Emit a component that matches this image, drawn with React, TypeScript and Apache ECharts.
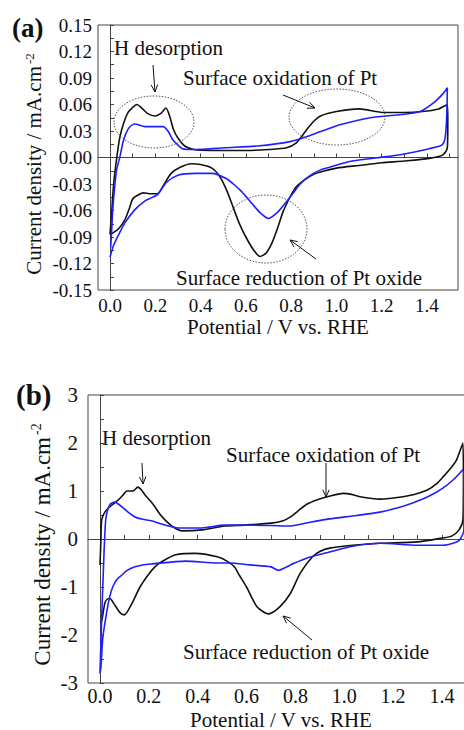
import React, { useEffect, useRef } from "react";
import * as echarts from "echarts";

// ---------- Panel (a) data: [potential V, current density mA.cm-2] ----------
const aBlack: [number, number][] = [
  [0.0, -0.087], [0.008, -0.06], [0.013, -0.04], [0.02, -0.02], [0.03, 0.0], [0.04, 0.018],
  [0.05, 0.03], [0.066, 0.043], [0.08, 0.051], [0.097, 0.056], [0.119, 0.06], [0.14, 0.056],
  [0.165, 0.05], [0.199, 0.047], [0.225, 0.05], [0.247, 0.056], [0.262, 0.048], [0.28, 0.032],
  [0.3, 0.022], [0.33, 0.013], [0.37, 0.009], [0.45, 0.008], [0.6, 0.008], [0.7, 0.009],
  [0.78, 0.011], [0.82, 0.016], [0.85, 0.025], [0.87, 0.032], [0.9, 0.041], [0.93, 0.047],
  [1.0, 0.052], [1.1, 0.055], [1.21, 0.051], [1.3, 0.051], [1.38, 0.052], [1.45, 0.055],
  [1.49, 0.06], [1.492, 0.04], [1.49, 0.011], [1.47, 0.003], [1.41, -0.001], [1.3, -0.004],
  [1.2, -0.006], [1.1, -0.009], [1.0, -0.012], [0.95, -0.015], [0.9, -0.019], [0.85, -0.027],
  [0.82, -0.034], [0.795, -0.045], [0.765, -0.061], [0.74, -0.08], [0.715, -0.097], [0.69, -0.108],
  [0.663, -0.112], [0.635, -0.105], [0.6, -0.09], [0.57, -0.074], [0.545, -0.057], [0.515, -0.037],
  [0.486, -0.022], [0.45, -0.012], [0.4, -0.008], [0.36, -0.007], [0.31, -0.011], [0.27, -0.018],
  [0.235, -0.032], [0.21, -0.041], [0.175, -0.041], [0.147, -0.04], [0.12, -0.043], [0.1, -0.047],
  [0.085, -0.058], [0.065, -0.071], [0.04, -0.08], [0.015, -0.085], [0.0, -0.087],
];

const aBlue: [number, number][] = [
  [0.003, -0.102], [0.008, -0.08], [0.012, -0.06], [0.02, -0.035], [0.03, -0.013], [0.044, 0.001],
  [0.057, 0.017], [0.07, 0.027], [0.085, 0.034], [0.11, 0.038], [0.155, 0.035], [0.235, 0.035],
  [0.256, 0.03], [0.275, 0.021], [0.296, 0.015], [0.32, 0.01], [0.375, 0.009], [0.51, 0.011],
  [0.65, 0.013], [0.795, 0.018], [0.883, 0.025], [0.97, 0.033], [1.015, 0.037], [1.15, 0.045],
  [1.3, 0.049], [1.37, 0.052], [1.43, 0.062], [1.47, 0.072], [1.49, 0.079], [1.487, 0.045],
  [1.48, 0.022], [1.465, 0.014], [1.41, 0.01], [1.3, 0.004], [1.22, 0.001], [1.07, -0.004],
  [0.97, -0.011], [0.93, -0.014], [0.88, -0.021], [0.84, -0.03], [0.81, -0.04], [0.77, -0.053],
  [0.74, -0.062], [0.7, -0.069], [0.665, -0.063], [0.63, -0.053], [0.6, -0.044], [0.575, -0.037],
  [0.545, -0.03], [0.515, -0.024], [0.45, -0.018], [0.375, -0.018], [0.3, -0.02], [0.25, -0.028],
  [0.21, -0.042], [0.18, -0.046], [0.155, -0.049], [0.11, -0.059], [0.066, -0.074], [0.035, -0.089],
  [0.015, -0.1], [0.0, -0.113],
];

// ---------- Panel (b) data ----------
const bBlack: [number, number][] = [
  [0.0, -0.54], [0.004, 0.0], [0.007, 0.4], [0.02, 0.56], [0.04, 0.67], [0.074, 0.81], [0.095, 0.92],
  [0.11, 1.0], [0.135, 1.0], [0.155, 1.08], [0.17, 1.02], [0.184, 0.92], [0.205, 0.8], [0.225, 0.67],
  [0.245, 0.52], [0.266, 0.4], [0.3, 0.25], [0.336, 0.17], [0.417, 0.19], [0.51, 0.27], [0.59, 0.29],
  [0.7, 0.33], [0.75, 0.38], [0.78, 0.46], [0.81, 0.58], [0.845, 0.72], [0.89, 0.82], [0.93, 0.88],
  [0.995, 0.95], [1.03, 0.93], [1.064, 0.88], [1.146, 0.83], [1.24, 0.88], [1.3, 0.95], [1.34, 1.02],
  [1.38, 1.16], [1.404, 1.29], [1.44, 1.5], [1.46, 1.65], [1.486, 2.0], [1.488, 1.2], [1.486, 0.4],
  [1.47, 0.19], [1.44, 0.06], [1.4, 0.02], [1.3, -0.06], [1.146, -0.09], [1.035, -0.13], [0.94, -0.19],
  [0.9, -0.26], [0.87, -0.37], [0.82, -0.71], [0.78, -1.13], [0.737, -1.41], [0.69, -1.56],
  [0.643, -1.41], [0.6, -1.0], [0.57, -0.75], [0.55, -0.58], [0.52, -0.46], [0.48, -0.37], [0.39, -0.3],
  [0.31, -0.33], [0.254, -0.47], [0.225, -0.58], [0.197, -0.75], [0.164, -1.0], [0.131, -1.34],
  [0.1, -1.58], [0.085, -1.55], [0.074, -1.48], [0.055, -1.33], [0.041, -1.24], [0.03, -1.25],
  [0.02, -1.33], [0.008, -1.69], [0.002, -1.73],
];

const bBlue: [number, number][] = [
  [0.0, -2.8], [0.008, -1.5], [0.015, -0.5], [0.02, 0.1], [0.025, 0.46], [0.04, 0.71], [0.06, 0.77],
  [0.075, 0.73], [0.09, 0.67], [0.115, 0.56], [0.143, 0.46], [0.175, 0.41], [0.21, 0.38], [0.266, 0.29],
  [0.32, 0.23], [0.417, 0.23], [0.51, 0.29], [0.59, 0.29], [0.7, 0.28], [0.78, 0.27], [0.86, 0.35],
  [0.94, 0.42], [1.05, 0.49], [1.146, 0.56], [1.22, 0.65], [1.28, 0.75], [1.35, 0.9], [1.404, 1.06],
  [1.45, 1.25], [1.486, 1.44], [1.49, 0.9], [1.49, 0.19], [1.475, 0.0], [1.46, -0.06], [1.404, -0.13],
  [1.3, -0.13], [1.146, -0.09], [1.035, -0.15], [0.94, -0.27], [0.845, -0.4], [0.78, -0.54],
  [0.73, -0.65], [0.7, -0.58], [0.614, -0.54], [0.53, -0.5], [0.48, -0.5], [0.35, -0.46], [0.21, -0.52],
  [0.175, -0.54], [0.143, -0.58], [0.11, -0.66], [0.09, -0.75], [0.07, -0.84], [0.053, -0.99],
  [0.04, -1.2], [0.029, -1.48], [0.012, -2.04], [0.004, -2.67], [0.0, -2.8],
];

// ---------- Tick labels / tick positions ----------
const xLabelValues = [0, 0.2, 0.4, 0.6, 0.8, 1.0, 1.2, 1.4];
const aXTickValues = [0, 0.1, 0.2, 0.3, 0.4, 0.5, 0.6, 0.7, 0.8, 0.9, 1.0, 1.1, 1.2, 1.3, 1.4, 1.5];
const bXTickValues = [0, 0.1, 0.2, 0.3, 0.4, 0.5, 0.6, 0.7, 0.8, 0.9, 1.0, 1.1, 1.2, 1.3, 1.4];
const aYLabelValues = [-0.15, -0.12, -0.09, -0.06, -0.03, 0, 0.03, 0.06, 0.09, 0.12, 0.15];
const aYTickValues = [
  -0.15, -0.135, -0.12, -0.105, -0.09, -0.075, -0.06, -0.045, -0.03, -0.015, 0,
  0.015, 0.03, 0.045, 0.06, 0.075, 0.09, 0.105, 0.12, 0.135, 0.15,
];
const bYLabelValues = [-3, -2, -1, 0, 1, 2, 3];
const bYTickValues = [-3, -2.5, -2, -1.5, -1, -0.5, 0, 0.5, 1, 1.5, 2, 2.5, 3];

const FONT = "'Liberation Serif', serif";
const INK = "#111";
const FRAME = "#444";
const BLUE = "#1f1fff";

function arrow(x1: number, y1: number, x2: number, y2: number) {
  const ang = Math.atan2(y2 - y1, x2 - x1);
  const L = 8;
  const a = 0.42;
  const p1 = [x2 - L * Math.cos(ang - a), y2 - L * Math.sin(ang - a)];
  const p2 = [x2 - L * Math.cos(ang + a), y2 - L * Math.sin(ang + a)];
  return [
    { type: "line", shape: { x1, y1, x2, y2 }, style: { stroke: INK, lineWidth: 1 }, z: 100 },
    {
      type: "polyline",
      shape: { points: [p1, [x2, y2], p2] },
      style: { stroke: INK, fill: null, lineWidth: 1 },
      z: 100,
    },
  ];
}

function ellipse(cx: number, cy: number, rx: number, ry: number) {
  return {
    type: "ellipse",
    shape: { cx, cy, rx, ry },
    style: { stroke: "#555", fill: "rgba(0,0,0,0)", lineWidth: 1, lineDash: [1.5, 1.5] },
    z: 100,
  };
}

function label(text: string, x: number, y: number, size: number, weight = "normal") {
  return {
    type: "text",
    x,
    y,
    z: 100,
    style: {
      text,
      font: `${weight} ${size}px ${FONT}`,
      fill: INK,
      textAlign: "left",
      textVerticalAlign: "middle",
    },
  };
}

function centerLabel(text: string, x: number, y: number, size: number) {
  return {
    type: "text",
    x,
    y,
    z: 100,
    style: { text, font: `${size}px ${FONT}`, fill: INK, textAlign: "center", textVerticalAlign: "middle" },
  };
}

function yName(x: number, yEnd: number, size: number) {
  return {
    type: "group",
    x,
    y: yEnd,
    rotation: Math.PI / 2,
    z: 100,
    children: [
      {
        type: "text",
        x: 0,
        y: 0,
        style: {
          text: "Current density / mA.cm",
          font: `${size}px ${FONT}`,
          fill: INK,
          textAlign: "right",
          textVerticalAlign: "middle",
        },
      },
      {
        type: "text",
        x: 2,
        y: -Math.round(size * 0.26),
        style: {
          text: "-2",
          font: `${Math.round(size * 0.6)}px ${FONT}`,
          fill: INK,
          textAlign: "left",
          textVerticalAlign: "middle",
        },
      },
    ],
  };
}

function tickRich(size: number) {
  return { t: { fontFamily: FONT, fontSize: size, color: INK, fontWeight: "normal" } };
}

function makeXAxis(gridIndex: number, min: number, max: number, ticks: number[], size: number, margin: number) {
  return {
    type: "value",
    gridIndex,
    min,
    max,
    axisLine: { show: true, lineStyle: { color: FRAME, width: 1 } },
    axisTick: { show: true, inside: true, length: 4, customValues: ticks, lineStyle: { color: FRAME } },
    axisLabel: {
      customValues: xLabelValues,
      formatter: (v: number) => `{t|${v.toFixed(1)}}`,
      rich: tickRich(size),
      fontFamily: FONT,
      fontSize: size,
      color: INK,
      margin,
    },
    splitLine: { show: false },
  };
}

function makeYAxis(
  gridIndex: number,
  min: number,
  max: number,
  labels: number[],
  ticks: number[],
  digits: number,
  size: number,
  margin: number
) {
  return {
    type: "value",
    gridIndex,
    min,
    max,
    axisLine: { show: true, lineStyle: { color: FRAME, width: 1 } },
    axisTick: { show: true, inside: true, length: 4, customValues: ticks, lineStyle: { color: FRAME } },
    axisLabel: {
      customValues: labels,
      formatter: (v: number) =>
        `{t|${Math.abs(v) < 1e-9 ? (0).toFixed(digits) : v.toFixed(digits)}}`,
      rich: tickRich(size),
      fontFamily: FONT,
      fontSize: size,
      color: INK,
      margin,
    },
    splitLine: { show: false },
  };
}

function lineSeries(data: [number, number][], color: string, idx: number) {
  return {
    type: "line",
    xAxisIndex: idx,
    yAxisIndex: idx,
    data,
    showSymbol: false,
    symbol: "none",
    smooth: 0.25,
    lineStyle: { color, width: 1.6 },
    clip: true,
  };
}

export default function App() {
  const ref = useRef<HTMLDivElement>(null);

  useEffect(() => {
    if (!ref.current) return;
    const chart = echarts.init(ref.current, null, { renderer: "svg" });
    chart.setOption({
      animation: false,
      backgroundColor: "#fff",
      textStyle: { fontFamily: FONT },
      grid: [
        { left: 98, top: 25, width: 360, height: 265, show: true, borderColor: FRAME, borderWidth: 1 },
        { left: 88, top: 395, width: 383, height: 288, show: true, borderColor: FRAME, borderWidth: 1 },
      ],
      xAxis: [
        makeXAxis(0, -0.053, 1.537, aXTickValues, 19, 6),
        makeXAxis(1, -0.049, 1.519, bXTickValues, 20, 3),
      ],
      yAxis: [
        makeYAxis(0, -0.15, 0.15, aYLabelValues, aYTickValues, 2, 19, 6),
        makeYAxis(1, -3, 3, bYLabelValues, bYTickValues, 0, 21, 10),
      ],
      series: [
        lineSeries(aBlack, INK, 0),
        lineSeries(aBlue, BLUE, 0),
        lineSeries(bBlack, INK, 1),
        lineSeries(bBlue, BLUE, 1),
      ],
      graphic: [
        // panel (a)
        label("(a)", 12, 28, 27, "bold"),
        yName(34, 66, 21),
        centerLabel("Potential / V vs. RHE", 278, 327, 21),
        label("H desorption", 114, 48, 21),
        label("Surface oxidation of Pt", 183, 78, 21),
        label("Surface reduction of Pt oxide", 176, 278, 21),
        ellipse(154, 122, 40, 26),
        ellipse(337, 117, 48, 28),
        ellipse(266, 229, 41, 34),
        ...arrow(153, 65, 155, 92),
        ...arrow(283, 95, 315, 108),
        ...arrow(316, 259, 290, 240),
        // panel (b)
        label("(b)", 16, 395, 29, "bold"),
        yName(42, 437, 23),
        centerLabel("Potential / V vs. RHE", 281, 719.5, 21),
        label("H desorption", 102, 438, 21),
        label("Surface oxidation of Pt", 226, 455, 21),
        label("Surface reduction of Pt oxide", 183, 652, 21),
        ...arrow(142, 463, 143, 484),
        ...arrow(326, 463, 326, 497),
        ...arrow(312, 640, 283, 616),
      ],
    });
    return () => chart.dispose();
  }, []);

  return (
    <div
      style={{
        position: "absolute",
        left: 0,
        top: 0,
        width: 464,
        height: 730,
        overflow: "hidden",
        background: "#fff",
      }}
    >
      <div ref={ref} style={{ width: 480, height: 730 }} />
    </div>
  );
}
